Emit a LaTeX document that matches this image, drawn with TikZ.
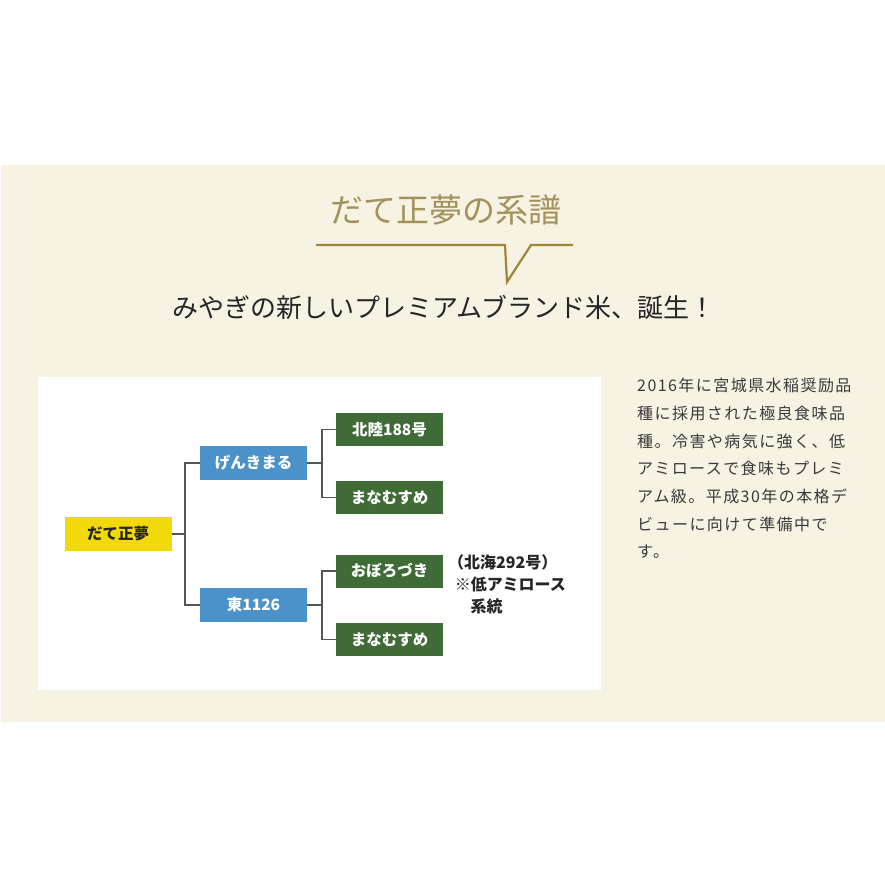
\documentclass[tikz,border=0pt]{standalone}
\usepackage{fontspec}
\setmainfont{Noto Sans CJK JP}
\usetikzlibrary{positioning}
\definecolor{band}{HTML}{F6F2E4}
\definecolor{gold}{HTML}{9E8838}
\definecolor{goldtext}{HTML}{A3925A}
\definecolor{parent}{HTML}{F2DA0A}
\definecolor{child}{HTML}{4A92C9}
\definecolor{leaf}{HTML}{3F6C36}
\definecolor{wire}{HTML}{555555}
\definecolor{ink}{HTML}{3A3A3A}
\tikzset{
  box/.style    ={minimum width=107pt, minimum height=34pt, inner sep=0pt,
                  font=\fontsize{15.5}{18}\selectfont\bfseries, text=white},
  rootbox/.style={box, fill=parent, text=black!85},
  kidbox/.style ={box, fill=child},
  leafbox/.style={box, fill=leaf, minimum height=33pt},
  link/.style   ={draw=wire, line width=1.2pt},
  note/.style   ={anchor=north west, align=left, inner sep=0pt},
}

\begin{document}
\begin{tikzpicture}[x=1pt,y=-1pt]
    \useasboundingbox (0,0) rectangle (885,885);
    \fill[white] (0,0) rectangle (885,885);
    \fill[band] (1,165) rectangle (885,722);
    \fill[white] (38,377) rectangle (601,690);
    % heading
    \node[font=\fontsize{33}{36}\selectfont, text=goldtext] (ttl) at (446,210) {だて正夢の系譜};
    \draw[gold, line width=2.2pt] (316,245) -- (505,245) -- (507,282) -- (531,245) -- (573,245);
    \node[font=\fontsize{26}{30}\selectfont, text=black!85] (sub) at (444,307)
      {みやぎの新しいプレミアムブランド米、誕生！};
    % family tree
    \node[rootbox] (dm)  at (118,534)   {だて正夢};
    \node[kidbox]  (gk)  at (253.5,463) {げんきまる};
    \node[kidbox]  (h1)  at (253.5,605) {東1126};
    \node[leafbox] (hr)  at (389.5,429.5) {北陸188号};
    \node[leafbox] (mn1) at (389.5,497.5) {まなむすめ};
    \node[leafbox] (ob)  at (389.5,571)   {おぼろづき};
    \node[leafbox] (mn2) at (389.5,639.5) {まなむすめ};
    \coordinate (j1) at (185,534);
    \coordinate (j2) at (322,463);
    \coordinate (j3) at (322,605);
    \draw[link] (dm) -- (j1) |- (gk);   \draw[link] (j1) |- (h1);
    \draw[link] (gk) -- (j2) |- (hr);   \draw[link] (j2) |- (mn1);
    \draw[link] (h1) -- (j3) |- (ob);   \draw[link] (j3) |- (mn2);
    \node[note, font=\fontsize{16}{22}\selectfont\bfseries, text=black!85] (ob-note) at (448,554)
      {（北海292号）\\\hspace{0.42em}※低アミロース\\\hspace{1.4em}系統};
    % description
    \node[note, font=\fontsize{16}{27.7}\selectfont\addfontfeature{LetterSpace=9}, text=ink] (desc) at (637,378)
      {2016年に宮城県水稲奨励品\\種に採用された極良食味品\\種。冷害や病気に強く、低\\アミロースで食味もプレミ\\アム級。平成30年の本格デ\\ビューに向けて準備中で\\す。};
  \end{tikzpicture}
\end{document}
